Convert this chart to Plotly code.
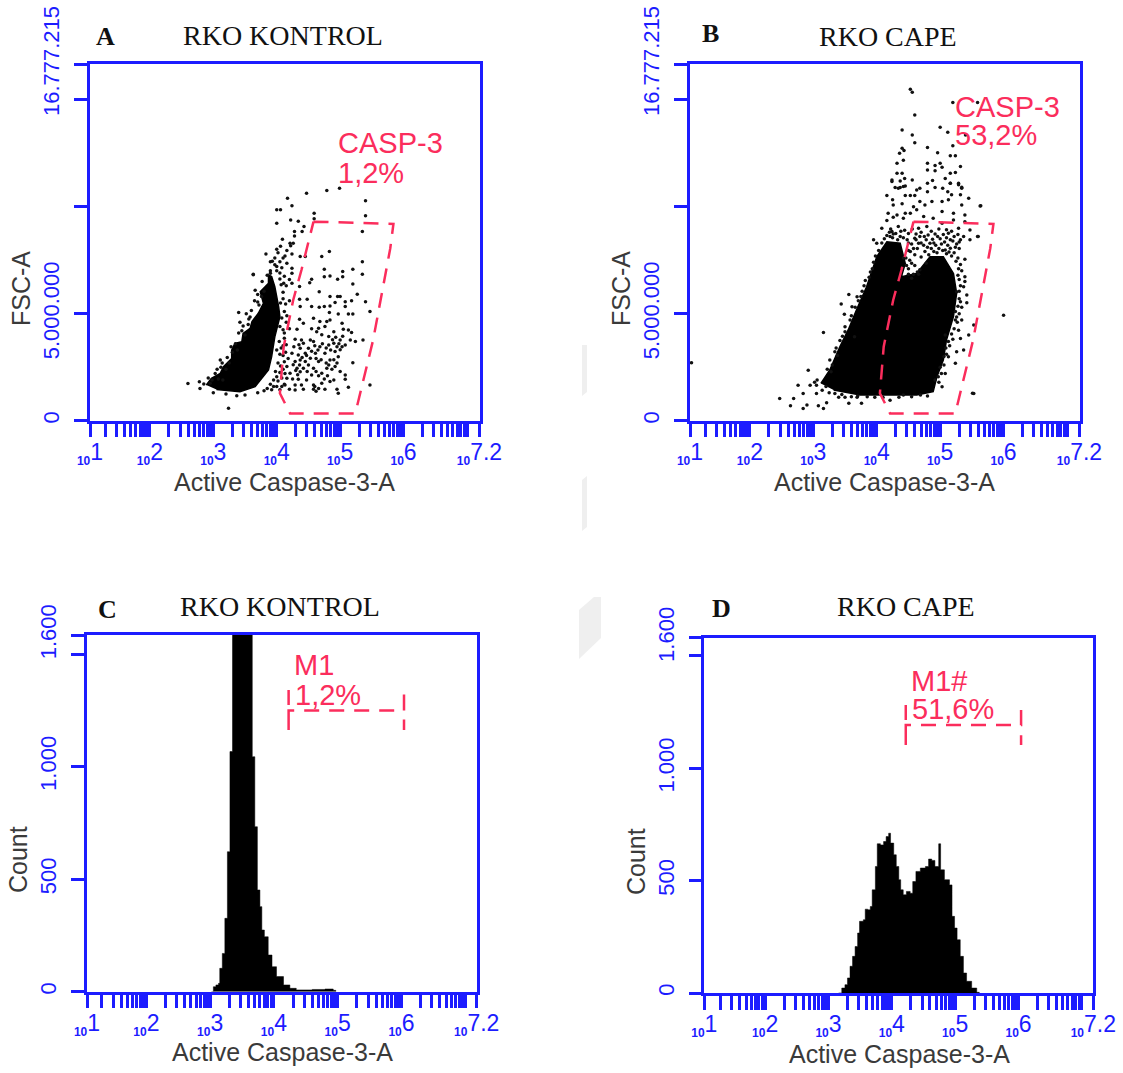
import plotly.graph_objects as go

W, H = 1123, 1073
BLUE = "#1c1cff"
RED = "#fb2d5c"
DARK = "#3a3a3a"

# Read-off values: x is log10(Active Caspase-3-A), FSC-A in millions
gate_log = [4.58, 5.84, 5.79, 5.52, 5.29, 5.24, 4.21, 4.11, 4.05, 4.11, 4.26, 4.39, 4.50, 4.58]
gate_fsc = [9.30, 9.19, 8.05, 3.77, 0.97, 0.34, 0.34, 0.97, 1.28, 3.46, 5.64, 7.04, 8.29, 9.30]

a_core_log = [2.89, 2.97, 3.11, 3.16, 3.29, 3.29, 3.34, 3.45, 3.47, 3.58, 3.61, 3.71, 3.79, 3.74, 3.87, 3.87, 3.92, 3.97, 4.03, 4.05, 3.97, 3.92, 3.87, 3.66, 3.42, 3.05]
a_core_fsc = [1.67, 1.98, 2.21, 2.52, 2.91, 3.30, 3.61, 3.69, 4.08, 4.31, 4.63, 5.02, 5.48, 6.03, 6.42, 6.81, 6.73, 6.26, 5.33, 4.86, 3.92, 2.99, 2.37, 1.59, 1.35, 1.46]

a_pts = [
 (4.17,10.39),(4.47,10.63),(4.79,10.75),(4.99,10.86),(5.40,10.28),(4.24,10.04),(4.00,9.85),(4.06,9.85),(4.59,9.69),(4.59,9.43),
 (5.40,9.57),(4.22,9.38),(4.34,9.32),(4.00,9.23),(4.43,9.07),(4.28,8.84),(4.40,8.84),(4.28,8.63),(5.35,8.84),(4.09,8.48),
 (4.21,8.29),(4.26,8.29),(4.22,8.17),(4.00,8.01),(4.16,7.95),(3.83,7.79),(4.24,7.79),(4.83,7.90),(4.71,7.67),(4.37,7.67),
 (4.45,7.67),(5.35,7.43),(3.90,7.43),(4.05,7.43),(4.16,7.36),(3.97,7.28),(4.24,7.12),(4.75,7.08),(5.20,7.08),(5.04,6.97),
 (3.90,6.89),(4.00,7.01),(4.24,6.89),(3.63,6.84),(5.35,6.84),(4.75,6.73),(4.84,6.76),(5.04,6.73),(4.96,6.61),(4.55,6.61),
 (4.52,6.45),(4.05,6.62),(4.24,6.42),(5.20,6.39),(4.36,6.27),(4.11,6.42),
 (4.67,6.03),(5.27,5.91),(4.84,5.80),(4.96,5.80),(5.00,5.80),(5.08,5.56),(5.18,5.60),(5.40,5.56),(4.48,5.67),(4.36,5.67),
 (4.37,5.33),(4.55,5.33),(4.67,5.30),(4.75,5.33),(4.84,5.36),(4.92,5.52),(5.08,5.33),(4.83,5.05),(4.97,4.99),(5.13,4.99),
 (5.20,4.99),(5.47,5.10),(4.36,4.74),(4.58,4.79),(4.68,4.63),(4.79,4.63),(4.84,4.71),(5.03,4.55),(4.42,4.55),(4.32,4.27),
 (4.66,4.32),(4.76,4.40),(5.05,4.27),(5.13,4.24),(5.18,4.12),(4.29,3.80),(4.39,3.77),(4.53,3.77),(4.58,3.70),(4.71,4.01),
 (4.82,3.93),(4.90,3.62),(5.00,3.77),(5.16,3.77),(5.24,3.70),(5.36,3.77),(4.37,3.38),(4.50,3.38),(4.68,3.46),(4.82,3.54),
 (4.95,3.46),(5.08,3.54),(4.24,3.15),(4.34,3.07),(4.45,3.15),(4.61,3.15),(4.76,3.15),(4.92,3.23),(5.00,3.31),(4.29,2.76),
 (4.45,2.76),(4.66,2.76),(4.84,2.84),(4.97,2.99),(5.20,2.71),(4.16,2.53),(4.32,2.45),(4.58,2.45),(4.79,2.45),(4.92,2.53),
 (4.21,2.22),(4.37,2.29),(4.55,2.14),(4.71,2.22),(5.08,2.14),(4.34,1.94),(4.47,1.90),(5.08,1.94),(4.13,1.67),(4.29,1.67),
 (4.39,1.67),(4.58,1.67),(4.71,1.75),(4.84,1.83),(4.20,1.47),(4.29,1.44),(4.42,1.47),(4.58,1.47),(4.76,1.47),(4.95,1.47),
 (5.13,1.56),(5.47,1.67),(4.97,1.28),(4.16,1.98),(4.26,2.61),(4.37,2.84),(4.53,2.92),(4.63,4.16),(4.90,4.16),
 (2.60,1.74),(2.78,1.82),(2.79,1.50),(3.24,0.58),(3.37,1.17),(3.11,2.83),(3.40,5.05),(3.63,6.82),
 (3.15,1.90),(3.08,1.95),(2.95,1.75),(3.20,2.40),(3.25,2.70),(3.30,3.20),(3.35,3.60),(3.38,3.30),(3.45,4.20),(3.50,4.00),
 (3.52,5.00),(3.58,4.85),(3.65,5.60),(3.70,5.90),(3.72,5.40),(3.66,6.10),(3.77,6.50),(3.85,6.80),(3.90,7.00),(3.42,4.60),
 (3.55,4.50),(2.98,1.90),(3.03,2.20),(3.12,2.50),(3.00,1.30),(3.20,1.25),(3.50,1.20),(3.70,1.30),(3.80,1.40),(3.85,1.50),
 (3.90,1.70),(3.95,1.90),(4.00,1.60),(4.05,1.45),(4.08,2.00),(3.98,2.30),(4.02,2.70),(4.05,3.10),(4.10,2.40),(4.00,3.30),
 (4.04,3.70),(4.10,3.50),(4.14,3.20),(4.18,2.90),(4.12,4.10),(4.05,4.40),(4.15,4.60),(4.12,5.10),(4.20,4.30),(4.10,6.00),
 (4.15,6.30),(4.20,5.60),(4.00,7.20),(4.05,6.90),(4.10,7.60),(4.20,6.60),
 (4.35,3.55),(4.42,3.62),(4.60,3.50),(4.65,3.30),(4.72,3.60),(4.78,3.40),(4.85,3.30),(4.88,3.78),(4.93,3.90),(4.98,3.60),
 (5.03,3.45),(5.04,3.95),(4.40,2.95),(4.47,3.05),(4.55,3.25),(4.62,2.90),(4.70,2.85),(4.78,2.70),(4.82,2.60),(4.87,2.40),
 (4.90,2.85),(4.95,2.70),(4.33,2.15),(4.42,2.45),(4.48,2.30),(4.50,2.60),(4.62,2.30),(4.66,2.10),(4.75,1.95),(4.80,2.10),
 (4.90,1.90),(5.00,2.30),(4.25,1.95),(4.30,2.35),(4.36,2.60),(4.27,3.45),(4.60,1.60),(4.62,1.38),(4.66,1.50),(4.55,4.30),
 (3.93,7.45),(3.97,7.60),(4.02,7.85),(4.06,8.15),(4.13,7.70),(4.08,7.15),(4.12,6.75),(4.07,6.35),(4.10,5.70),(4.06,5.50),
 (4.14,5.45),(4.16,4.90),(4.08,4.80),(4.10,4.25),(4.12,3.85),(4.15,3.55),(4.07,3.40),(4.10,3.05),(4.12,2.75),(4.06,2.55),
 (4.13,2.20),(4.05,2.25),(4.00,2.05),(4.02,1.85),(4.12,1.70),(4.08,1.60),(3.95,1.60),(3.92,1.45),
 (3.80,6.05),(3.76,5.80),(3.70,5.55),(3.60,5.15),(3.56,4.75),(3.47,4.42),(3.40,4.10),(3.28,3.45),(3.22,2.95),(3.14,2.70),
 (3.06,2.40),(2.92,2.00),(2.85,1.72),
]
a_log = [p[0] for p in a_pts]
a_fsc = [p[1] for p in a_pts]

b_core_log = [3.12, 3.26, 3.42, 3.55, 3.68, 3.84, 4.00, 4.16, 4.37, 4.45, 4.39, 4.63, 4.84, 5.05, 5.21, 5.26, 5.21, 5.10, 5.05, 4.95, 4.89, 4.63, 4.26, 3.74, 3.32]
b_core_fsc = [1.74, 2.37, 3.46, 4.24, 5.17, 6.26, 7.66, 8.36, 8.29, 7.35, 6.73, 6.88, 7.66, 7.66, 6.88, 5.95, 4.86, 3.77, 2.83, 2.06, 1.36, 1.20, 1.20, 1.20, 1.43]

b_pts = [
 (4.53,15.48),(4.56,15.34),(4.60,14.28),(5.20,14.86),(5.59,14.86),(4.40,13.58),(4.56,13.35),(5.00,13.71),(5.12,13.47),(5.40,13.35),
 (4.60,12.99),(4.80,12.76),(4.40,12.73),(4.43,12.62),(4.36,12.49),(4.96,12.52),(5.20,12.85),(5.16,12.38),(5.24,12.38),(4.42,12.17),
 (4.32,12.03),(4.80,12.03),(4.92,11.92),(5.00,12.03),(5.03,11.84),(5.32,11.87),(4.80,11.71),(4.92,11.68),(5.16,11.56),(5.24,11.60),
 (4.32,11.56),(4.40,11.56),(4.24,11.25),(4.37,11.20),(4.44,11.32),(4.56,11.25),(4.88,11.22),(5.08,11.32),(4.80,11.09),(5.16,11.09),
 (5.29,11.09),(4.45,10.97),(4.29,10.89),(4.37,10.89),(4.68,10.86),(4.92,10.89),(5.04,10.86),(5.34,10.86),
 (4.24,11.17),(4.34,10.86),(4.42,10.94),(4.63,10.78),(5.16,11.09),(5.29,11.02),(5.34,10.91),(4.16,10.52),(4.25,10.32),(4.45,10.52),
 (4.53,10.52),(4.60,10.52),(4.80,10.70),(5.12,10.70),(5.18,10.55),(5.32,10.55),(5.45,10.39),(5.64,10.04),(4.26,10.08),(4.40,10.13),
 (4.58,10.00),(4.68,10.24),(4.87,10.24),(5.03,10.24),(5.13,10.32),(5.34,10.08),(4.18,9.69),(4.32,9.61),(4.45,9.69),(4.53,9.69),
 (4.63,9.85),(4.76,10.08),(5.03,9.77),(5.21,9.69),(5.39,9.61),(4.16,9.35),(4.26,9.51),(4.42,9.46),(4.74,9.54),(4.89,9.46),
 (5.21,9.38),(5.39,9.30),(4.08,8.99),(4.24,8.84),(4.34,9.07),(4.66,8.99),(4.79,9.07),(5.03,9.23),(5.29,8.99),(5.47,8.91),
 (5.60,8.60),(3.95,8.45),(4.21,8.60),(4.37,8.60),(4.60,8.52),(4.81,8.68),(5.13,8.76),(5.37,8.60),(5.47,8.45),(4.00,8.29),
 (5.39,7.54),(4.66,8.29),(4.84,8.29),(4.53,7.90),(5.16,8.06),(4.76,7.90),(5.39,6.73),(5.39,6.50),(4.50,6.84),(4.58,6.84),(4.66,6.84),
 (3.16,4.12),(2.92,2.36),(2.76,1.66),(2.95,1.66),(3.05,1.66),(3.05,1.27),(2.84,1.27),(2.69,1.04),(2.47,1.04),(2.64,0.70),
 (2.84,0.57),(2.90,0.73),(3.08,0.70),(3.16,0.57),(3.21,0.84),(3.56,0.81),(3.76,0.81),(5.53,1.27),(6.00,4.93),(3.44,5.45),
 (3.49,4.97),(3.56,5.90),(3.69,5.79),(3.61,5.32),(3.65,3.92),(3.50,4.39),(3.34,3.22),(3.26,2.83),(3.28,2.29),(3.34,1.27),
 (3.50,1.09),(3.69,1.09),(3.97,1.09),(4.21,0.96),(4.42,1.20),(4.69,1.20),(4.92,1.90),(5.03,1.59),(5.08,4.00),(5.32,3.84),
 (5.45,4.00),(5.37,3.30),(5.26,3.22),(5.24,2.68),(5.13,2.99),(5.08,2.21),(5.53,4.47),(5.34,4.70),(5.42,5.51),(5.32,5.56),
 (5.42,5.87),(5.37,6.26),(5.26,6.02),(5.24,4.70),(5.29,4.23),(1.08,2.71),(5.51,1.28),(5.63,10.03),(5.59,8.60),
 (4.22,8.95),(4.30,8.75),(4.38,8.85),(4.44,8.90),(4.50,8.75),(4.56,8.95),(4.62,8.72),(4.70,8.80),(4.75,8.60),(4.86,8.85),
 (4.92,8.72),(4.98,8.95),(5.05,8.70),(5.10,8.92),(5.18,8.85),(5.22,8.60),(5.28,8.70),(5.32,8.45),(4.48,8.45),(4.55,8.25),
 (4.62,8.45),(4.70,8.30),(4.78,8.45),(4.88,8.48),(4.93,8.20),(5.00,8.50),(5.07,8.35),(5.12,8.20),(5.20,8.40),(5.26,8.25),
 (5.30,8.05),(4.50,7.95),(4.60,7.75),(4.64,8.05),(4.70,7.65),(4.80,8.10),(4.82,7.75),(4.90,7.90),(4.98,8.05),(5.04,7.95),
 (5.10,7.80),(5.22,7.85),(5.28,7.60),(5.32,7.30),(5.34,7.00),(5.30,6.60),(5.32,6.30),(5.30,5.70),(5.34,5.30),(5.30,5.00),
 (5.27,4.60),(5.22,4.30),(5.20,3.80),(5.15,3.50),(5.10,3.10),(5.06,2.60),(5.02,2.20),(4.98,1.80),(4.55,6.65),(4.42,7.60),
 (4.47,7.25),(4.52,7.50),(4.60,7.25),(4.68,7.05),(4.78,7.35),(3.75,5.80),(3.90,6.95),(3.95,7.40),(4.03,7.95),(4.12,8.50),
 (4.20,8.80),(3.80,6.30),(3.60,4.90),(3.46,3.95),(3.38,3.05),(3.30,2.60),(3.20,1.60),(3.40,1.10),(3.60,1.12),(3.85,1.12),(4.10,1.08),(4.35,1.10),(4.55,1.12),(4.80,1.15),
 (4.25,8.55),(4.33,8.45),(4.42,8.55),(4.50,8.30),(4.58,8.05),(4.68,8.60),(4.74,8.20),(4.90,8.30),(4.96,8.60),(5.02,8.25),
 (5.10,8.55),(5.16,8.45),(5.24,8.10),(5.30,8.35),(4.86,8.05),(4.95,7.85),(5.08,7.98),(5.14,7.88),(5.18,7.70),(5.25,7.45),
 (5.29,7.10),(5.28,6.80),(5.30,6.05),(5.28,5.35),(5.24,5.10),(5.26,4.85),(5.18,4.05),(5.13,3.70),(5.09,3.40),(5.06,3.00),
 (5.00,2.50),(4.97,2.05),(4.50,7.10),(4.55,7.35),(4.64,6.95),(4.46,7.60),
 (3.88,6.70),(3.82,6.55),(3.77,6.05),(3.71,5.60),(3.66,5.30),(3.58,4.70),(3.50,4.15),(3.42,3.75),(3.36,3.40),(3.22,2.40),
 (3.93,7.10),(3.98,7.70),(4.08,8.30),(4.16,8.65),(4.26,8.72),(3.06,1.90),(3.02,1.80),(3.14,1.42),(3.25,1.30),(3.45,1.22),(3.70,1.15),
]
b_log = [p[0] for p in b_pts]
b_fsc = [p[1] for p in b_pts]

c_bins = [3.02, 3.05, 3.09, 3.13, 3.15, 3.19, 3.23, 3.27, 3.31, 3.35, 3.39, 3.43, 3.47, 3.51, 3.55, 3.59, 3.63, 3.66, 3.70, 3.74, 3.78, 3.81, 3.85, 3.91, 3.97, 4.04, 4.15, 4.25, 4.35, 4.60, 4.80, 4.93, 4.97]
c_counts = [0, 22, 30, 37, 104, 170, 326, 622, 1067, 1900, 2300, 2600, 2700, 2600, 2300, 2000, 1750, 1044, 733, 452, 378, 274, 244, 163, 111, 67, 30, 15, 8, 10, 12, 6, 0]

d_bins = [3.16, 3.21, 3.26, 3.30, 3.34, 3.38, 3.42, 3.46, 3.49, 3.55, 3.58, 3.62, 3.66, 3.69, 3.74, 3.77, 3.82, 3.87, 3.91, 3.95, 3.98, 4.03, 4.07, 4.11, 4.14, 4.18, 4.23, 4.29, 4.33, 4.38, 4.45, 4.53, 4.58, 4.63, 4.68, 4.74, 4.77, 4.83, 4.91, 4.95, 4.99, 5.03, 5.08, 5.13, 5.18, 5.26, 5.34, 5.38]
d_counts = [0, 22, 37, 67, 119, 163, 207, 267, 319, 326, 373, 370, 385, 459, 563, 664, 659, 674, 696, 711, 667, 615, 563, 504, 459, 437, 452, 444, 496, 541, 556, 563, 596, 590, 563, 664, 548, 504, 481, 341, 289, 237, 163, 89, 52, 22, 3, 0]

c_m1_log = [4.23, 4.23, 4.23, 6.04, 6.04, 6.04]
c_m1_cnt = [1341, 1163, 1249, 1249, 1341, 1163]
d_m1_log = [4.22, 4.22, 4.22, 6.04, 6.04, 6.04]
d_m1_cnt = [1281, 1104, 1193, 1193, 1281, 1104]

decade_labels = ["1", "2", "3", "4", "5", "6", "7.2"]
fsc_ticks = [0, 5, 10, 15, 16.65]
fsc_labels = ["0", "5.000.000", " ", " ", "16.777.215"]
count_ticks = [0, 500, 1000, 1500]
count_labels = ["0", "500", "1.000", " ", "1.600"]

panels = {
    "A": dict(box=(90, 479.5, 64.3, 420.7), xr=(1.056, 7.197), yr=(0, 16.65), ytitle="FSC-A"),
    "B": dict(box=(690, 1079.5, 64.3, 420.7), xr=(1.056, 7.197), yr=(0, 16.65), ytitle="FSC-A"),
    "C": dict(box=(87, 476.7, 635, 991.7), xr=(1.068, 7.18), yr=(0, 1585), ytitle="Count"),
    "D": dict(box=(704.3, 1093.3, 637.7, 993), xr=(1.04, 7.18), yr=(0, 1581), ytitle="Count"),
}

def px(x): return x / W
def py(y): return 1 - y / H
def lin(v): return [10 ** e for e in v]

def x_ticks(xr):
    vals = [10 ** xr[0]] + [10 ** k for k in range(2, 7)] + [10 ** xr[1]]
    text = [f'<sub><span style="font-size:12px;font-weight:bold">10</span></sub>{d}' for d in decade_labels]
    return vals, text

fig = go.Figure()
layout = dict(width=W, height=H, margin=dict(l=0, r=0, t=0, b=0, autoexpand=False), showlegend=False,
              paper_bgcolor="white", plot_bgcolor="white", template=None,
              font=dict(family="Liberation Sans", color=DARK))
ann = []
def text(x, y, s, size, color, family="Liberation Sans", xanchor="center", angle=0, bold=False):
    ann.append(dict(xref="paper", yref="paper", x=px(x), y=py(y), text=f"<b>{s}</b>" if bold else s,
                    showarrow=False, xanchor=xanchor, yanchor="middle", textangle=angle,
                    font=dict(size=size, color=color, family=family)))

for i, (name, p) in enumerate(panels.items()):
    s = "" if i == 0 else str(i + 1)
    l, r, t, b = p["box"]
    tv, tt = x_ticks(p["xr"])
    if p["ytitle"] == "FSC-A":
        yv, yt = fsc_ticks, fsc_labels
    else:
        yv, yt = count_ticks + [p["yr"][1]], count_labels
    layout["xaxis" + s] = dict(domain=[px(l), px(r)], anchor="y" + s, type="log", range=list(p["xr"]), automargin=False,
        tickmode="array", tickvals=tv, ticktext=tt, tickangle=0, ticks="outside", ticklen=14, tickwidth=2.5,
        tickcolor=BLUE, showline=True, linecolor=BLUE, linewidth=2.5, mirror=True, showgrid=False, zeroline=False,
        minor=dict(ticks="outside", ticklen=14, tickwidth=2.5, tickcolor=BLUE, dtick="D1", showgrid=False),
        ticklabelstandoff=-5, tickfont=dict(size=23, color=BLUE, family="Liberation Sans"))
    layout["yaxis" + s] = dict(domain=[py(b), py(t)], anchor="x" + s, range=list(p["yr"]), automargin=False,
        tickmode="array", tickvals=yv, ticktext=yt, tickangle=-90, ticks="outside", ticklen=13, tickwidth=2.5,
        tickcolor=BLUE, showline=True, linecolor=BLUE, linewidth=2.5, mirror=True, showgrid=False, zeroline=False,
        ticklabelstandoff=6, tickfont=dict(size=22, color=BLUE, family="Liberation Sans"))

def poly(xs, ys, ax):
    fig.add_trace(go.Scatter(x=lin(xs), y=ys, mode="lines", fill="toself", fillcolor="black",
                             line=dict(width=1.5, color="black"), xaxis="x" + ax, yaxis="y" + ax, hoverinfo="skip"))
def dots(xs, ys, ax):
    fig.add_trace(go.Scatter(x=lin(xs), y=ys, mode="markers", marker=dict(size=3.5, color="#111111", line=dict(width=0)),
                             xaxis="x" + ax, yaxis="y" + ax))
def gate(xs, ys, ax):
    fig.add_trace(go.Scatter(x=lin(xs), y=ys, mode="lines", line=dict(color=RED, width=2.5, dash="15px,10px"),
                             xaxis="x" + ax, yaxis="y" + ax))
def hist(xs, ys, ax):
    fig.add_trace(go.Scatter(x=lin(xs), y=ys, mode="lines", fill="tozeroy", fillcolor="black",
                             line=dict(width=0.5, color="black", shape="hv"), xaxis="x" + ax, yaxis="y" + ax))

poly(a_core_log, a_core_fsc, "")
dots(a_log, a_fsc, "")
gate(gate_log, gate_fsc, "")
poly(b_core_log, b_core_fsc, "2")
dots(b_log, b_fsc, "2")
gate(gate_log, gate_fsc, "2")
hist(c_bins, c_counts, "3")
gate(c_m1_log, c_m1_cnt, "3")
hist(d_bins, d_counts, "4")
gate(d_m1_log, d_m1_cnt, "4")

SERIF = "Liberation Serif"
for x, y, s in [(283, 35, "RKO KONTROL"), (888, 36, "RKO CAPE"), (280, 607, "RKO KONTROL"), (906, 607, "RKO CAPE")]:
    text(x, y, s, 28, "#111111", SERIF)
for x, y, s in [(105, 37, "A"), (710, 34, "B"), (107, 609, "C"), (721, 608, "D")]:
    text(x, y, s, 26, "#111111", SERIF, bold=True)
for x, y, s in [(284, 482, "Active Caspase-3-A"), (884, 482, "Active Caspase-3-A"),
                (282, 1052, "Active Caspase-3-A"), (899, 1054, "Active Caspase-3-A")]:
    text(x, y, s, 25, DARK)
for x, y, s in [(21, 289, "FSC-A"), (621, 289, "FSC-A"), (18, 860, "Count"), (636, 862, "Count")]:
    text(x, y, s, 25, DARK, angle=-90)
for x, y, s in [(336, 143, "CASP-3"), (336, 173, "1,2%"), (953, 107, "CASP-3"), (953, 135, "53,2%"),
                (292, 665, "M1"), (293, 695, "1,2%"), (909, 681, "M1#"), (910, 709, "51,6%")]:
    text(x, y, s, 29, RED, xanchor="left")
layout["annotations"] = ann

def faint(path):
    return dict(type="path", xref="paper", yref="paper", layer="below", path=path,
                fillcolor="#efefef", line=dict(width=0))
def pth(pts):
    return "M " + " L ".join(f"{px(a):.5f},{py(b):.5f}" for a, b in pts) + " Z"
layout["shapes"] = [faint(pth([(582, 345), (587, 345), (587, 392), (582, 396)])),
                    faint(pth([(582, 480), (587, 476), (587, 527), (582, 531)])),
                    faint(pth([(579, 610), (594, 597), (601, 597), (601, 638), (579, 659)]))]
fig.update_layout(**layout)
fig.write_html("out.html", post_script="document.body.style.margin='0';", config={"displayModeBar": False})
